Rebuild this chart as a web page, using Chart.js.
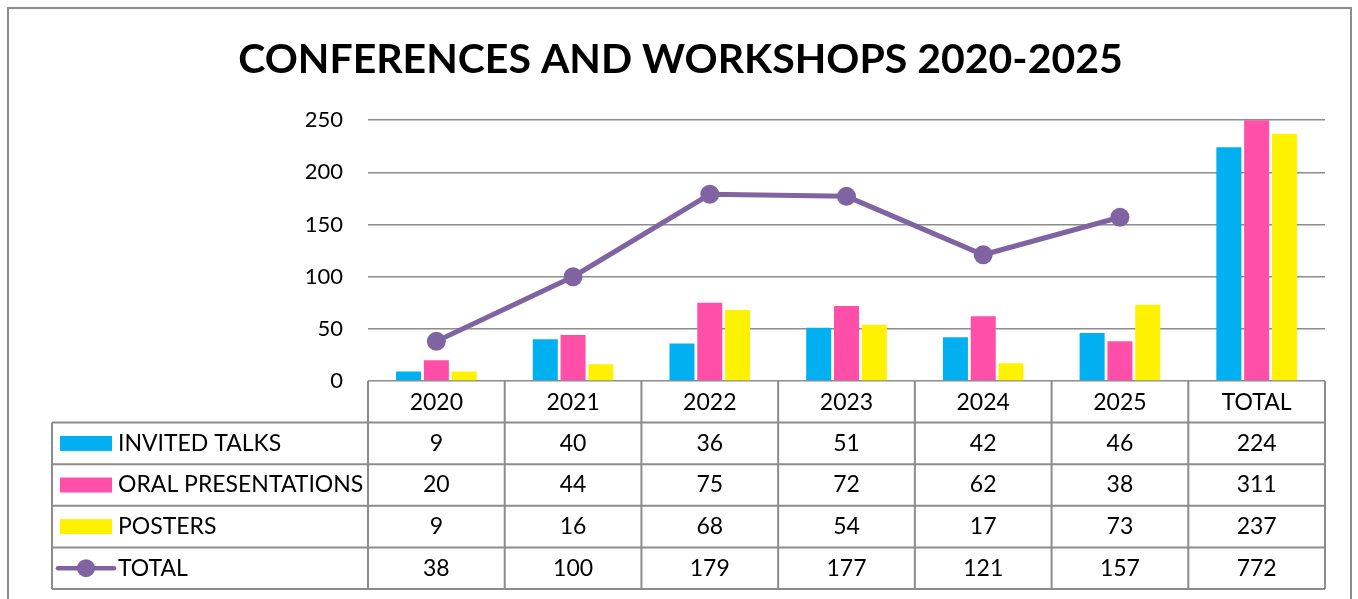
<!DOCTYPE html>
<html lang="en">
<head>
  <meta charset="UTF-8" />
  <title>Conferences and workshops 2020-2025</title>
  <script src="https://cdn.jsdelivr.net/npm/chart.js"></script>
  <style>
    body { margin: 0; background: #fff; }
    .wrap { position: relative; width: 1358px; height: 599px; }
    .frame { position: absolute; left: 7px; top: 7px; width: 1345px; height: 600px; border: 2px solid #8c8c8c; box-sizing: border-box; }
    canvas { position: absolute; left: 0; top: 0; }
  </style>
</head>
<body>
  <div class="wrap">
    <div class="frame"></div>
    <canvas id="chart" width="1358" height="599"></canvas>
  </div>

  <script>
    const categories = ['2020', '2021', '2022', '2023', '2024', '2025', 'TOTAL'];
    const invitedTalks = [9, 40, 36, 51, 42, 46, 224];
    const oralPresentations = [20, 44, 75, 72, 62, 38, 311];
    const posters = [9, 16, 68, 54, 17, 73, 237];
    const totals = [38, 100, 179, 177, 121, 157, 772];
    const yTicks = [0, 50, 100, 150, 200, 250];

    const BLUE = '#00b0f0';
    const PINK = '#ff4fa8';
    const YELLOW = '#fff200';
    const PURPLE = '#8064a2';
    const GRID = '#8c8c8c';
    const FONT = 'Lato, "Open Sans", sans-serif';

    // the line only runs over the yearly columns
    const totalLine = totals.map((v, i) => (categories[i] === 'TOTAL' ? null : v));

    const rows = [
      { label: 'INVITED TALKS', values: invitedTalks, color: BLUE, type: 'bar' },
      { label: 'ORAL PRESENTATIONS', values: oralPresentations, color: PINK, type: 'bar' },
      { label: 'POSTERS', values: posters, color: YELLOW, type: 'bar' },
      { label: 'TOTAL', values: totals, color: PURPLE, type: 'line' }
    ];

    const tablePlugin = {
      id: 'dataTable',
      afterDraw(chart) {
        const { ctx, scales: { x } } = chart;
        const half = (x.getPixelForValue(1) - x.getPixelForValue(0)) / 2;
        const left = x.getPixelForValue(0) - half;
        const right = x.getPixelForValue(categories.length - 1) + half;
        const top = x.top;
        const rowH = (x.bottom - x.top) / 5;
        const legendLeft = 52;

        ctx.save();
        ctx.strokeStyle = GRID;
        ctx.lineWidth = 2;

        // vertical lines
        ctx.beginPath();
        for (let i = 0; i <= categories.length; i++) {
          const px = left + i * half * 2;
          ctx.moveTo(px, top);
          ctx.lineTo(px, x.bottom);
        }
        ctx.moveTo(legendLeft, top + rowH);
        ctx.lineTo(legendLeft, x.bottom);
        // horizontal lines
        for (let r = 1; r <= 5; r++) {
          const py = top + r * rowH;
          ctx.moveTo(legendLeft, py);
          ctx.lineTo(right, py);
        }
        ctx.stroke();

        ctx.font = '23px ' + FONT;
        ctx.fillStyle = '#000';
        ctx.textBaseline = 'middle';

        rows.forEach((row, r) => {
          const cy = top + (r + 1.5) * rowH;
          // legend key
          if (row.type === 'bar') {
            ctx.fillStyle = row.color;
            ctx.fillRect(60, cy - 7.5, 52, 15);
          } else {
            ctx.strokeStyle = row.color;
            ctx.lineWidth = 4.5;
            ctx.lineCap = 'round';
            ctx.beginPath();
            ctx.moveTo(58, cy);
            ctx.lineTo(114, cy);
            ctx.stroke();
            ctx.fillStyle = row.color;
            ctx.beginPath();
            ctx.arc(86, cy, 9, 0, Math.PI * 2);
            ctx.fill();
          }
          ctx.fillStyle = '#000';
          ctx.textAlign = 'left';
          ctx.fillText(row.label, 118, cy);
          ctx.textAlign = 'center';
          row.values.forEach((v, i) => {
            ctx.fillText(String(v), x.getPixelForValue(i), cy);
          });
        });
        ctx.restore();
      }
    };

    const barDefaults = {
      type: 'bar',
      order: 1,
      categoryPercentage: 0.61,
      barPercentage: 0.9,
      borderWidth: 0
    };

    new Chart(document.getElementById('chart'), {
      data: {
        labels: categories,
        datasets: [
          {
            type: 'line',
            label: 'TOTAL',
            data: totalLine,
            order: 0,
            borderColor: PURPLE,
            backgroundColor: PURPLE,
            borderWidth: 5,
            pointRadius: 9.5,
            pointBorderWidth: 0,
            pointBackgroundColor: PURPLE,
            tension: 0,
            spanGaps: false
          },
          { ...barDefaults, label: 'INVITED TALKS', data: invitedTalks, backgroundColor: BLUE },
          { ...barDefaults, label: 'ORAL PRESENTATIONS', data: oralPresentations, backgroundColor: PINK },
          { ...barDefaults, label: 'POSTERS', data: posters, backgroundColor: YELLOW }
        ]
      },
      options: {
        responsive: false,
        animation: false,
        layout: { padding: { top: 0, left: 36, right: 33, bottom: 10 } },
        plugins: {
          legend: { display: false },
          tooltip: { enabled: false },
          title: {
            display: true,
            text: 'CONFERENCES AND WORKSHOPS 2020-2025',
            color: '#000',
            font: { family: FONT, size: 41, weight: 'bold' },
            padding: { top: 35, bottom: 36 }
          }
        },
        scales: {
          x: {
            grid: { display: false, drawTicks: false },
            border: { display: false },
            ticks: { color: '#000', font: { family: FONT, size: 23 }, padding: 8, maxRotation: 0 },
            afterFit(scale) { scale.height = 208; }
          },
          y: {
            min: 0,
            max: 250,
            afterBuildTicks(scale) { scale.ticks = yTicks.map(v => ({ value: v })); },
            afterFit(scale) { scale.width = 332; },
            grid: { color: GRID, lineWidth: 1.5, drawTicks: false },
            border: { display: false },
            ticks: { color: '#000', font: { family: FONT, size: 22 }, padding: 25 }
          }
        }
      },
      plugins: [tablePlugin]
    });
  </script>
</body>
</html>
